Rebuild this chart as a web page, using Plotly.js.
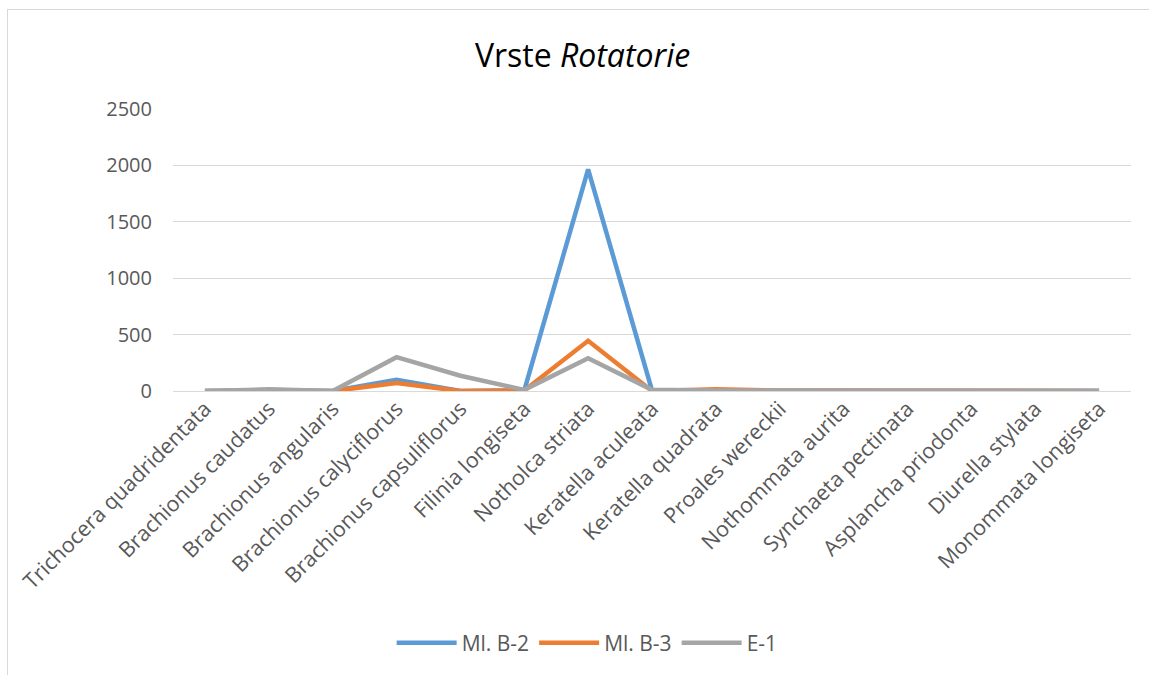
<!DOCTYPE html>
<html>
<head>
<meta charset="utf-8">
<script src="https://cdn.plot.ly/plotly-3.0.1.min.js"></script>
<style>
html,body{margin:0;padding:0;background:#fff;}
#wrap{position:relative;width:1149px;height:675px;overflow:hidden;}
#chart{width:1149px;height:675px;}
#frame{position:absolute;left:7px;top:9px;width:1200px;height:700px;border:1px solid #d9d9d9;pointer-events:none;}
</style>
</head>
<body>
<div id="wrap"><div id="chart"></div><div id="frame"></div></div>
<script>
const categories = ["Trichocera quadridentata","Brachionus caudatus","Brachionus angularis","Brachionus calyciflorus","Brachionus capsuliflorus","Filinia longiseta","Notholca striata","Keratella aculeata","Keratella quadrata","Proales wereckii","Nothommata aurita","Synchaeta pectinata","Asplancha priodonta","Diurella stylata","Monommata longiseta"];
const mlB2 = [0, 8, 0, 100, 0, 5, 1965, 5, 0, 0, 0, 0, 0, 0, 0];
const mlB3 = [0, 0, 0, 70, 0, 5, 445, 0, 15, 5, 3, 3, 3, 3, 0];
const e1   = [0, 15, 0, 300, 135, 10, 290, 10, 5, 5, 5, 5, 5, 5, 2];
const seriesNames = ["Ml. B-2", "Ml. B-3", "E-1"];
const seriesColors = ["#5B9BD5", "#ED7D31", "#A5A5A5"];
const yTicks = [0, 500, 1000, 1500, 2000, 2500];

const font = "Open Sans, sans-serif";
const data = [mlB2, mlB3, e1].map((v, i) => ({
  type: "scatter", mode: "lines", x: categories, y: v, name: seriesNames[i],
  line: {color: seriesColors[i], width: 4.5}, hoverinfo: "skip"
}));

const layout = {
  width: 1149, height: 675,
  margin: {l: 173, r: 18, t: 109, b: 284},
  paper_bgcolor: "#fff", plot_bgcolor: "#fff",
  font: {family: font, color: "#595959"},
  title: {text: "Vrste <i>Rotatorie</i>", font: {family: font, size: 32, color: "#000"},
          x: 0.507, xref: "container", y: 1 - 56/675, yref: "container", xanchor: "center", yanchor: "middle"},
  xaxis: {type: "category", tickmode: "array", tickvals: categories, ticktext: categories,
          tickangle: -45, tickfont: {size: 21.5, color: "#595959"}, showgrid: false,
          showline: false, zeroline: false, ticks: "", automargin: false, fixedrange: true,
          range: [-0.5, categories.length - 0.5]},
  yaxis: {range: [0, 2500], tickmode: "array", tickvals: yTicks, ticktext: yTicks.map(String),
          tickfont: {size: 20, color: "#595959"}, showgrid: true, gridcolor: "#d9d9d9", gridwidth: 1,
          zeroline: true, zerolinecolor: "#d9d9d9", zerolinewidth: 1, showline: false, ticks: "",
          ticklabelstandoff: 20, automargin: false, fixedrange: true},
  showlegend: true,
  legend: {orientation: "h", xref: "container", yref: "container", x: 0.511, y: 1 - 643/675,
           xanchor: "center", yanchor: "middle", font: {size: 21, color: "#595959"},
           itemwidth: 60, tracegroupgap: 0, bgcolor: "rgba(0,0,0,0)"}
};

Plotly.newPlot("chart", data, layout, {displayModeBar: false, staticPlot: true});
</script>
</body>
</html>
